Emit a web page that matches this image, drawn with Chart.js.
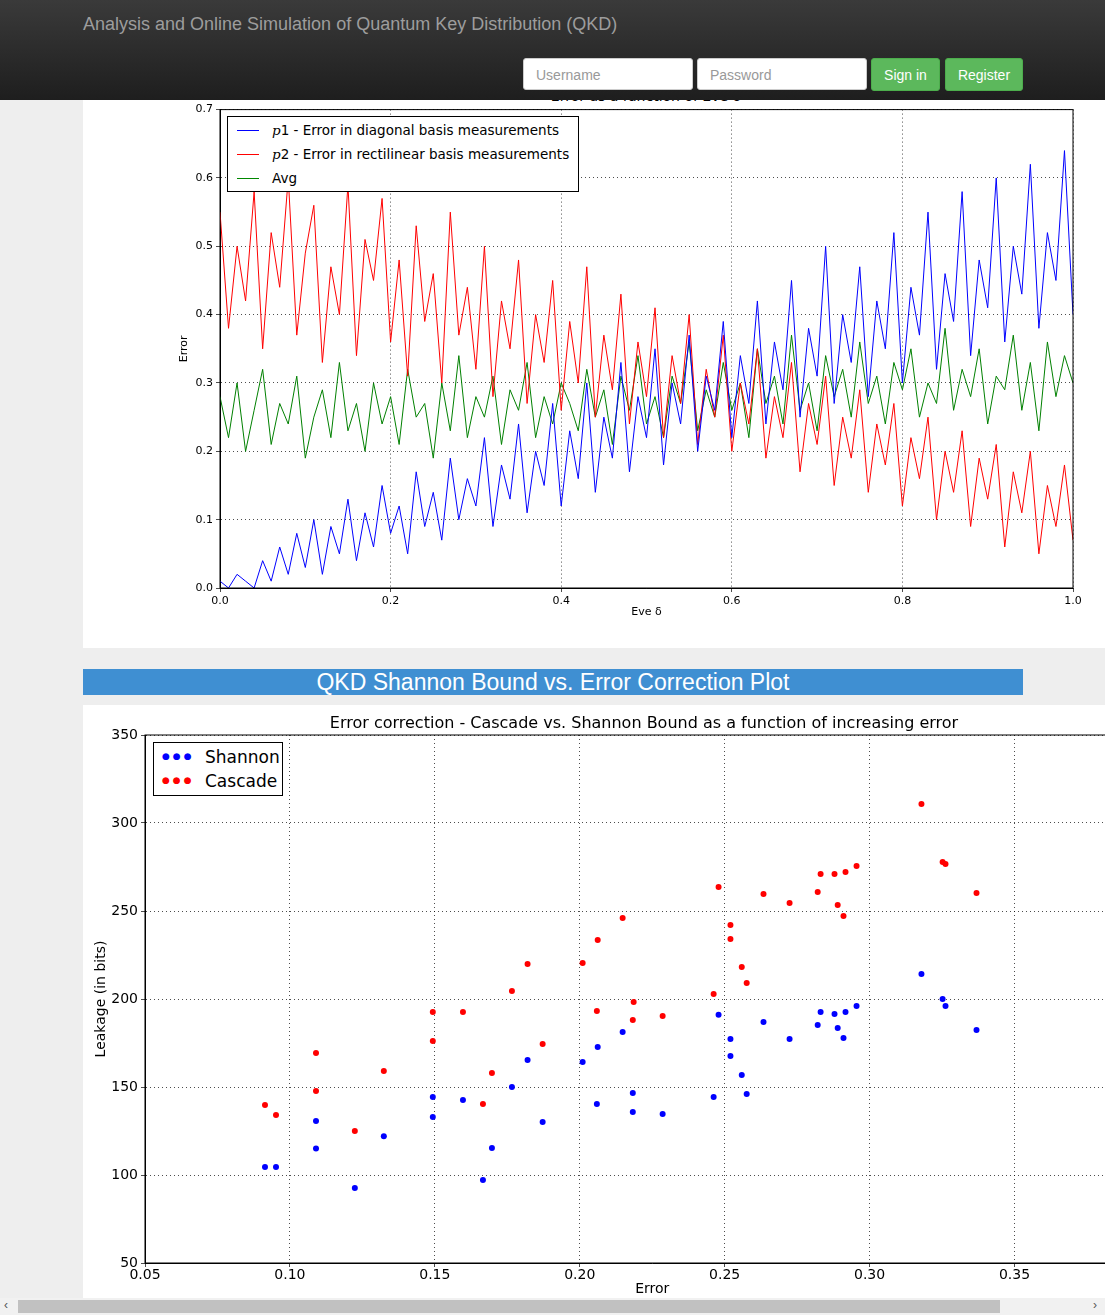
<!DOCTYPE html>
<html><head><meta charset="utf-8">
<script src="https://cdn.jsdelivr.net/npm/chart.js@4"></script>
<style>
body{margin:0;width:1105px;height:1315px;overflow:hidden;background:#eee;font-family:"Liberation Sans",Arial,sans-serif;position:relative}
.abs{position:absolute}
#nav{left:0;top:0;width:1105px;height:100px;background:linear-gradient(#3a3a3a,#1e1e1e);z-index:10}
#nav .t{left:83px;top:14px;color:#9d9d9d;font-size:18px}
.inp{top:58px;height:32px;background:#fff;border:1px solid #ccc;border-radius:3px;box-sizing:border-box;color:#999;font-size:14px;padding:8px 12px}
.btn{top:58px;height:33px;background:#5cb85c;border:1px solid #4cae4c;border-radius:3px;box-sizing:border-box;color:#fff;font-size:14px;text-align:center;padding-top:8px}
.leg{background:#fff;border:1px solid #000;font-family:"DejaVu Sans";color:#000}
</style></head><body>
<div id="nav" class="abs">
 <div class="abs t">Analysis and Online Simulation of Quantum Key Distribution (QKD)</div>
 <div class="abs inp" style="left:523px;width:170px">Username</div>
 <div class="abs inp" style="left:697px;width:170px">Password</div>
 <div class="abs btn" style="left:871px;width:69px">Sign in</div>
 <div class="abs btn" style="left:945px;width:78px">Register</div>
</div>
<div class="abs" style="left:83px;top:60px;width:1022px;height:588px;background:#fff"></div>
<div class="abs" style="left:83px;top:88px;width:1126px;text-align:center;font-family:'DejaVu Sans';font-size:14px">Error as a function of Eve δ</div>
<div class="abs" style="left:83px;top:100px;width:1022px;height:548px"><canvas id="c1"></canvas></div>
<div class="abs leg" style="left:227px;top:116px;width:350px;height:74px;font-size:13.5px">
 <div class="abs" style="left:9px;top:13px;width:22px;border-top:1px solid #00f"></div>
 <div class="abs" style="left:44px;top:5px"><i style="font-family:'DejaVu Serif'">p</i>1 - Error in diagonal basis measurements</div>
 <div class="abs" style="left:9px;top:37px;width:22px;border-top:1px solid #f00"></div>
 <div class="abs" style="left:44px;top:29px"><i style="font-family:'DejaVu Serif'">p</i>2 - Error in rectilinear basis measurements</div>
 <div class="abs" style="left:9px;top:61px;width:22px;border-top:1px solid #080"></div>
 <div class="abs" style="left:44px;top:53px">Avg</div>
</div>
<div class="abs" style="left:83px;top:669px;width:940px;height:26px;background:#3f8fd2;color:#fff;font-size:23px;text-align:center;line-height:27px">QKD Shannon Bound vs. Error Correction Plot</div>
<div class="abs" style="left:83px;top:705px;width:1022px;height:593px;background:#fff;overflow:hidden">
 <div class="abs" style="left:0;top:0;width:1092px;height:593px"><canvas id="c2"></canvas></div>
</div>
<div class="abs" style="left:83px;top:713px;width:1122px;text-align:center;font-family:'DejaVu Sans';font-size:16px">Error correction - Cascade vs. Shannon Bound as a function of increasing error</div>
<div class="abs leg" style="left:153px;top:742px;width:128px;height:52px;font-size:17px">
 <div class="abs" style="left:8px;top:8px;color:#00f;font-size:9px;letter-spacing:3px">●●●</div>
 <div class="abs" style="left:51px;top:4px">Shannon</div>
 <div class="abs" style="left:8px;top:32px;color:#f00;font-size:9px;letter-spacing:3px">●●●</div>
 <div class="abs" style="left:51px;top:28px">Cascade</div>
</div>
<div class="abs" style="left:0;top:1298px;width:1105px;height:17px;background:#f1f1f1">
 <div class="abs" style="left:18px;top:2px;width:982px;height:13px;background:#c1c1c1"></div>
 <div class="abs" style="left:4px;top:0;font-size:12px;color:#555">‹</div>
 <div class="abs" style="left:1093px;top:0;font-size:12px;color:#555">›</div>
</div>
<script>
const p1 = [0.01,0.00,0.02,0.01,0.00,0.04,0.01,0.06,0.02,0.08,0.03,
0.10,0.02,0.09,0.05,0.13,0.04,0.11,0.06,0.15,0.08,
0.12,0.05,0.17,0.09,0.14,0.07,0.19,0.10,0.16,0.12,
0.22,0.09,0.18,0.13,0.24,0.11,0.20,0.15,0.27,0.12,
0.23,0.16,0.30,0.14,0.25,0.19,0.33,0.17,0.28,0.22,
0.35,0.18,0.30,0.24,0.37,0.20,0.31,0.26,0.39,0.22,
0.34,0.27,0.42,0.24,0.36,0.29,0.45,0.25,0.38,0.31,
0.50,0.27,0.40,0.33,0.47,0.28,0.42,0.35,0.52,0.30,
0.44,0.37,0.55,0.32,0.46,0.39,0.58,0.34,0.48,0.41,
0.60,0.36,0.50,0.43,0.62,0.38,0.52,0.45,0.64,0.40];
const p2 = [0.55,0.38,0.50,0.42,0.58,0.35,0.52,0.44,0.60,0.37,0.49,
0.56,0.33,0.47,0.40,0.59,0.34,0.51,0.45,0.57,0.36,
0.48,0.31,0.53,0.39,0.46,0.30,0.55,0.37,0.44,0.32,
0.50,0.28,0.42,0.35,0.48,0.27,0.40,0.33,0.45,0.26,
0.39,0.30,0.47,0.25,0.37,0.29,0.43,0.24,0.36,0.28,
0.41,0.22,0.34,0.27,0.40,0.21,0.32,0.25,0.37,0.20,
0.30,0.24,0.35,0.19,0.28,0.22,0.33,0.17,0.27,0.21,
0.31,0.15,0.25,0.19,0.29,0.14,0.24,0.18,0.27,0.12,
0.22,0.16,0.25,0.10,0.20,0.14,0.23,0.09,0.19,0.13,
0.21,0.06,0.17,0.11,0.20,0.05,0.15,0.09,0.18,0.07];
const avg = [0.28,0.22,0.30,0.20,0.26,0.32,0.21,0.27,0.24,0.31,0.19,
0.25,0.29,0.22,0.33,0.23,0.27,0.20,0.30,0.24,0.28,
0.21,0.32,0.25,0.27,0.19,0.30,0.23,0.34,0.22,0.28,
0.25,0.31,0.21,0.29,0.26,0.33,0.22,0.28,0.24,0.30,
0.27,0.23,0.32,0.25,0.29,0.21,0.31,0.26,0.34,0.24,
0.28,0.22,0.31,0.27,0.36,0.23,0.29,0.25,0.33,0.26,
0.30,0.22,0.35,0.27,0.31,0.24,0.37,0.26,0.30,0.23,
0.34,0.28,0.32,0.25,0.36,0.27,0.31,0.24,0.33,0.29,
0.35,0.25,0.30,0.27,0.38,0.26,0.32,0.28,0.35,0.24,
0.31,0.29,0.37,0.26,0.33,0.23,0.36,0.28,0.34,0.30];
const errX = [0.0914,0.0952,0.109,0.109,0.1224,0.1324,0.1493,0.1493,0.1597,0.1666,0.1697,0.1766,0.182,0.1872,0.201,0.2062,0.2059,0.2148,0.2183,0.2183,0.2286,0.2462,0.2479,0.252,0.252,0.2559,0.2576,0.2634,0.2724,0.2821,0.2831,0.2879,0.289,0.291,0.2917,0.2955,0.3179,0.3252,0.3262,0.3369];
const shannon = [104.5,104.5,130.7,115,92.6,122,144.3,133,142.6,97.2,115.3,150,165.3,130.1,164.2,172.7,140.3,181.3,146.6,135.8,134.7,144.3,191,177.3,167.6,156.8,146,187,177.3,185.2,192.6,191.5,183.5,177.8,192.6,196,214.2,200,196,182.4];
const cascadeX = [0.0914,0.0952,0.109,0.109,0.1224,0.1324,0.1493,0.1493,0.1597,0.1666,0.1697,0.1766,0.182,0.1872,0.201,0.2062,0.2059,0.2148,0.2186,0.2183,0.2286,0.2462,0.2479,0.252,0.252,0.2559,0.2576,0.2634,0.2724,0.2821,0.2831,0.2879,0.289,0.291,0.2917,0.2955,0.3179,0.3252,0.3262,0.3369];
const cascade = [139.8,134.1,169.3,147.7,125,159.1,192.6,176.1,192.6,140.3,158,204.5,219.9,174.4,220.5,233.5,193.2,246,198.3,188.1,190.4,202.8,263.6,242,234.1,218.2,209.1,259.7,254.5,260.8,271,271,253.4,247.2,272.2,275.6,310.8,277.8,276.7,260.2];

const pts = a => a.map((v,i)=>({x:i/(a.length-1),y:v}));
const grid = {color:'#000',lineWidth:0.7,drawTicks:true,tickLength:4,tickColor:'#000'};
const border = {color:'#000',width:1,dash:[1,3]};
const frame = {id:'frame',afterDraw(c){const a=c.chartArea,x=c.ctx;x.save();x.strokeStyle='#000';x.lineWidth=1;x.setLineDash([]);x.strokeRect(a.left,a.top,a.right-a.left,a.bottom-a.top);x.restore();}};

new Chart(document.getElementById('c1'),{type:'line',
 data:{datasets:[
  {data:pts(p1),borderColor:'#00f',borderWidth:1,pointRadius:0},
  {data:pts(p2),borderColor:'#f00',borderWidth:1,pointRadius:0},
  {data:pts(avg),borderColor:'#008000',borderWidth:1,pointRadius:0}]},
 options:{responsive:true,maintainAspectRatio:false,animation:false,
  layout:{padding:{top:8,right:32,left:95,bottom:25}},
  plugins:{legend:{display:false},tooltip:{enabled:false}},
  scales:{
   x:{type:'linear',min:0,max:1,grid,border,afterFit(s){s.height=35;},
     ticks:{stepSize:0.2,color:'#000',font:{family:'DejaVu Sans',size:11},callback:v=>v.toFixed(1),maxRotation:0},
     title:{display:true,text:'Eve δ',color:'#000',font:{family:'DejaVu Sans',size:11},padding:{top:2}}},
   y:{min:0,max:0.7,grid,border,afterFit(s){s.width=42;},
     ticks:{stepSize:0.1,color:'#000',font:{family:'DejaVu Sans',size:11},callback:v=>v.toFixed(1)},
     title:{display:true,text:'Error',color:'#000',font:{family:'DejaVu Sans',size:11},padding:0}}}},
 plugins:[frame]});

new Chart(document.getElementById('c2'),{type:'scatter',
 data:{datasets:[
  {data:errX.map((x,i)=>({x,y:shannon[i]})),backgroundColor:'#00f',borderWidth:0,pointRadius:3},
  {data:cascadeX.map((x,i)=>({x,y:cascade[i]})),backgroundColor:'#f00',borderWidth:0,pointRadius:3}]},
 options:{responsive:true,maintainAspectRatio:false,animation:false,
  layout:{padding:{top:30,right:10,left:10,bottom:0}},
  plugins:{legend:{display:false},tooltip:{enabled:false}},
  scales:{
   x:{type:'linear',min:0.05,max:0.40,grid,border,afterFit(s){s.height=35;},
     ticks:{stepSize:0.05,color:'#000',font:{family:'DejaVu Sans',size:14},callback:v=>v.toFixed(2),maxRotation:0,padding:0},
     title:{display:true,text:'Error',color:'#000',font:{family:'DejaVu Sans',size:14},padding:0}},
   y:{min:50,max:350,grid,border,afterFit(s){s.width=52;},
     ticks:{stepSize:50,color:'#000',font:{family:'DejaVu Sans',size:14}},
     title:{display:true,text:'Leakage (in bits)',color:'#000',font:{family:'DejaVu Sans',size:14},padding:0}}}},
 plugins:[frame]});
</script>
</body></html>
